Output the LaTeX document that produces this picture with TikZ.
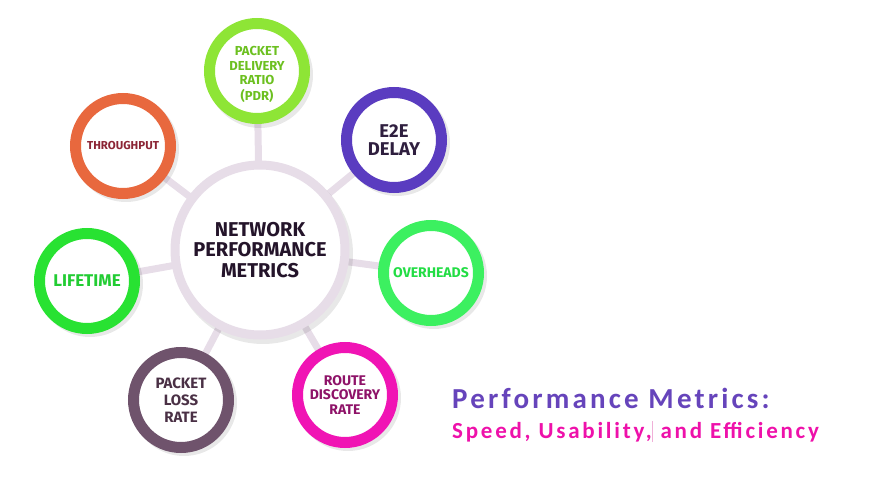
\documentclass[tikz,border=0pt]{standalone}
\usepackage{fontspec}
\setmainfont{Fira Sans}
\newfontfamily\titlefont[LetterSpace=11]{Carlito}
\newfontfamily\subfont[LetterSpace=12]{Carlito}
\usetikzlibrary{backgrounds}
\definecolor{spokec}{HTML}{E7DDE8}
\definecolor{hubtext}{HTML}{24142A}
\definecolor{pdrc}{HTML}{8EE536}
\definecolor{pdrt}{HTML}{6CC020}
\definecolor{thrc}{HTML}{E8683E}
\definecolor{thrt}{HTML}{8B2535}
\definecolor{e2ec}{HTML}{5A3CC0}
\definecolor{e2et}{HTML}{2F1F3F}
\definecolor{ovc}{HTML}{3CF060}
\definecolor{ovt}{HTML}{22DD44}
\definecolor{rtc}{HTML}{F014B4}
\definecolor{rtt}{HTML}{8E1268}
\definecolor{plc}{HTML}{6F536C}
\definecolor{plt}{HTML}{4A3045}
\definecolor{lfc}{HTML}{28E232}
\definecolor{lft}{HTML}{22CC33}
\definecolor{titlec}{HTML}{6644BB}
\definecolor{subc}{HTML}{EE11AA}
\definecolor{cursorc}{HTML}{F0B0D8}
\tikzset{
  sat/.style={circle, draw=#1, line width=11pt, fill=white, minimum size=95pt, inner sep=0pt, align=center},
  hubstyle/.style={circle, draw=spokec, line width=9pt, fill=white, minimum size=170pt, inner sep=0pt, align=center, text=hubtext,
    font=\fontsize{20}{20.5}\selectfont\bfseries},
  spoke/.style={draw=spokec, line width=7pt},
  shade/.style={fill=black, opacity=0.09}
}
\begin{document}
\begin{tikzpicture}[x=1pt,y=-1pt]
\useasboundingbox (0,0) rectangle (870,494);
% shadows
\foreach \p/\r in {{(263,254)/90},{(260,75)/53},{(397,143)/53},{(126,149)/53},{(434,276)/53},{(90,284)/53},{(184,403)/53},{(348,398)/53}}{
  \fill[shade] \p circle (\r);
}
\node[hubstyle] (hub) at (260,250) {NETWORK\\PERFORMANCE\\METRICS};
\node[sat=pdrc, text=pdrt, font=\fontsize{13}{14.5}\selectfont\bfseries] (pdr) at (257,71) {\raisebox{-4pt}[\height][\depth]{\begin{tabular}{@{}c@{}}PACKET\\DELIVERY\\RATIO\\(PDR)\end{tabular}}};
\node[sat=e2ec, text=e2et, font=\fontsize{18.5}{17.5}\selectfont\bfseries] (e2e) at (394,140) {E2E\\DELAY};
\node[sat=thrc, text=thrt, font=\fontsize{11.5}{13}\selectfont\bfseries] (thr) at (123,146) {THROUGHPUT};
\node[sat=ovc, text=ovt, font=\fontsize{14}{16}\selectfont\bfseries] (ovh) at (431,273) {OVERHEADS};
\node[sat=lfc, text=lft, font=\fontsize{17}{18}\selectfont\bfseries] (life) at (87,281) {LIFETIME};
\node[sat=plc, text=plt, font=\fontsize{15}{16.7}\selectfont\bfseries] (loss) at (181,400) {PACKET\\LOSS\\RATE};
\node[sat=rtc, text=rtt, font=\fontsize{14}{14.5}\selectfont\bfseries] (route) at (345,395) {ROUTE\\DISCOVERY\\RATE};
\begin{pgfonlayer}{background}
  \foreach \s in {pdr,e2e,thr,ovh,life,loss,route}{
    \draw[spoke] (hub.center) -- (\s.center);
  }
\end{pgfonlayer}
\node[anchor=base west, inner sep=0pt, text=titlec, font=\fontsize{29}{31}\selectfont\titlefont\bfseries] (title) at (452,408) {Performance Metrics:};
\node[anchor=base west, inner sep=0pt, text=subc, font=\fontsize{23}{25}\selectfont\subfont\bfseries] (sub) at (452,438) {Speed, Usability,{\color{cursorc}\rule[-4pt]{0.9pt}{21pt}} and Efficiency};
\end{tikzpicture}
\end{document}
